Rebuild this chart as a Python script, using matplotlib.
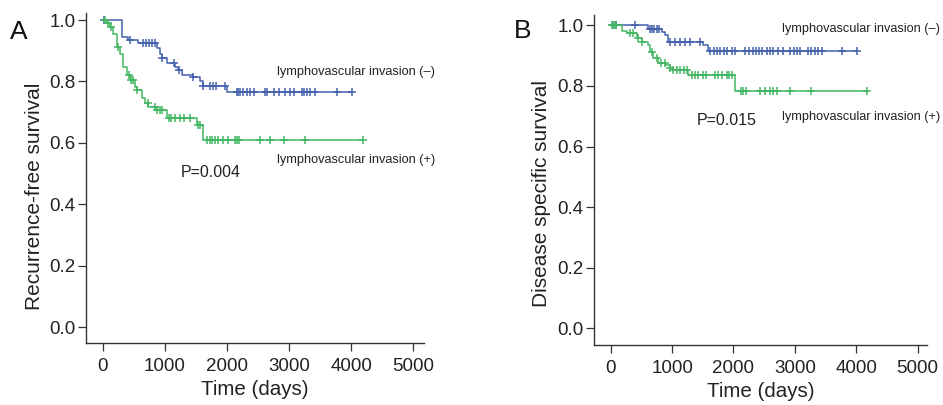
import numpy as np
import matplotlib
matplotlib.use("Agg")
import matplotlib.pyplot as plt

plt.rcParams['font.family'] = ['Liberation Sans', 'DejaVu Sans']

BLUE = "#4361ad"
GREEN = "#43b662"

# ---- Panel A: recurrence-free survival ----
a_neg_t = [0, 316, 412, 574, 869, 923, 950, 1030, 1164, 1218, 1272, 1459, 1567, 1620, 1997]
a_neg_s = [1.0, 0.946, 0.935, 0.924, 0.908, 0.891, 0.875, 0.859, 0.848, 0.837, 0.821, 0.815, 0.800, 0.785, 0.766]
a_neg_end = 4010
a_neg_cens = [20, 440, 650, 700, 740, 790, 840, 950, 1140, 1220, 1460, 1620, 1730, 1780, 1830, 1970,
              2160, 2180, 2210, 2260, 2320, 2370, 2430, 2610, 2640, 2750, 2830, 2940, 3020, 3070,
              3200, 3240, 3290, 3340, 3420, 3770, 4010]

a_pos_t = [0, 64, 118, 171, 225, 279, 332, 386, 440, 520, 547, 628, 681, 735, 869, 1030, 1513, 1620]
a_pos_s = [1.0, 0.989, 0.978, 0.956, 0.913, 0.891, 0.848, 0.821, 0.805, 0.783, 0.772, 0.745, 0.729,
           0.717, 0.707, 0.680, 0.658, 0.609]
a_pos_end = 4190
a_pos_cens = [40, 90, 140, 250, 420, 450, 480, 550, 730, 840, 880, 920, 950, 1060, 1100, 1160, 1250,
              1300, 1400, 1530, 1570, 1680, 1720, 1760, 1800, 1860, 1940, 2020, 2130, 2160, 2190,
              2530, 2690, 2910, 3260, 4190]

# ---- Panel B: disease specific survival ----
b_neg_t = [0, 613, 830, 884, 938, 1510, 1590]
b_neg_s = [1.0, 0.987, 0.979, 0.968, 0.946, 0.934, 0.915]
b_neg_end = 4010
b_neg_cens = [30, 80, 390, 640, 670, 700, 750, 780, 970, 1050, 1130, 1210, 1290, 1460, 1620, 1680,
              1730, 1780, 1840, 1890, 1970, 2020, 2190, 2250, 2310, 2370, 2420, 2470, 2540, 2600,
              2650, 2730, 2810, 2920, 2980, 3030, 3080, 3220, 3270, 3330, 3380, 3440, 3760, 4010]

b_pos_t = [0, 179, 260, 423, 505, 613, 640, 694, 776, 884, 966, 1020, 1264, 2024]
b_pos_s = [1.0, 0.982, 0.974, 0.957, 0.946, 0.935, 0.913, 0.891, 0.877, 0.869, 0.858, 0.852, 0.836, 0.783]
b_pos_end = 4170
b_pos_cens = [20, 50, 80, 320, 370, 450, 505, 670, 750, 820, 880, 970, 1020, 1080, 1130, 1190, 1240,
              1320, 1380, 1430, 1510, 1560, 1700, 1750, 1810, 1890, 1930, 1970, 2130, 2160, 2210,
              2430, 2520, 2600, 2650, 2710, 2920, 3270, 4170]

x_ticks = [0, 1000, 2000, 3000, 4000, 5000]
y_ticks = [0.0, 0.2, 0.4, 0.6, 0.8, 1.0]


def km(ax, t, s, end, cens, color):
    tt = list(t) + [end]
    ss = list(s) + [s[-1]]
    ax.step(tt, ss, where='post', color=color, lw=1.1)
    idx = np.searchsorted(np.array(t), np.array(cens), side='right') - 1
    cy = np.array(s)[idx]
    ax.plot(cens, cy, linestyle='none', marker='+', color=color, ms=6, mew=1.1)


fig = plt.figure(figsize=(9.43, 4.05), dpi=100)
axA = fig.add_axes([0.0912, 0.1531, 0.3584, 0.8148])
axB = fig.add_axes([0.6302, 0.1481, 0.3528, 0.8149])

for ax in (axA, axB):
    for sp in ('top', 'right'):
        ax.spines[sp].set_visible(False)
    for sp in ('left', 'bottom'):
        ax.spines[sp].set_color('#333333')
        ax.spines[sp].set_linewidth(1.0)
    ax.set_xticks(x_ticks)
    ax.set_yticks(y_ticks)
    ax.set_yticklabels([f"{v:.1f}" for v in y_ticks])
    ax.tick_params(axis='both', labelsize=13.5, length=5.5, width=0.9, color='#333333',
                   labelcolor='#222222')
    ax.tick_params(axis='y', pad=2)
    ax.tick_params(axis='x', pad=5)
    ax.set_xlabel("Time (days)", fontsize=14.8, color='#222222', labelpad=4)

km(axA, a_neg_t, a_neg_s, a_neg_end, a_neg_cens, BLUE)
km(axA, a_pos_t, a_pos_s, a_pos_end, a_pos_cens, GREEN)
axA.set_xlim(-270, 5170)
axA.set_ylim(-0.052, 1.023)
axA.set_ylabel("Recurrence-free survival", fontsize=15, color='#222222')
axA.yaxis.set_label_coords(-0.124, 0.445)
axA.text(2800, 0.83, "lymphovascular invasion (–)", fontsize=9.2, color='#222222', va='center', ha='left')
axA.text(2800, 0.544, "lymphovascular invasion (+)", fontsize=9.2, color='#222222', va='center', ha='left')
axA.text(1250, 0.505, "P=0.004", fontsize=11.5, color='#222222', va='center', ha='left')

km(axB, b_neg_t, b_neg_s, b_neg_end, b_neg_cens, BLUE)
km(axB, b_pos_t, b_pos_s, b_pos_end, b_pos_cens, GREEN)
axB.set_xlim(-267, 5151)
axB.set_ylim(-0.055, 1.034)
axB.set_ylabel("Disease specific survival", fontsize=15, color='#222222')
axB.yaxis.set_label_coords(-0.130, 0.46)
axB.text(2790, 0.988, "lymphovascular invasion (–)", fontsize=9.2, color='#222222', va='center', ha='left')
axB.text(2790, 0.698, "lymphovascular invasion (+)", fontsize=9.2, color='#222222', va='center', ha='left')
axB.text(1400, 0.685, "P=0.015", fontsize=11.5, color='#222222', va='center', ha='left')

fig.text(10 / 943, 1 - 32 / 405, "A", fontsize=19, color='#111111', va='center', ha='left')
fig.text(514 / 943, 1 - 31 / 405, "B", fontsize=19, color='#111111', va='center', ha='left')

fig.savefig("out.png", dpi=100)
